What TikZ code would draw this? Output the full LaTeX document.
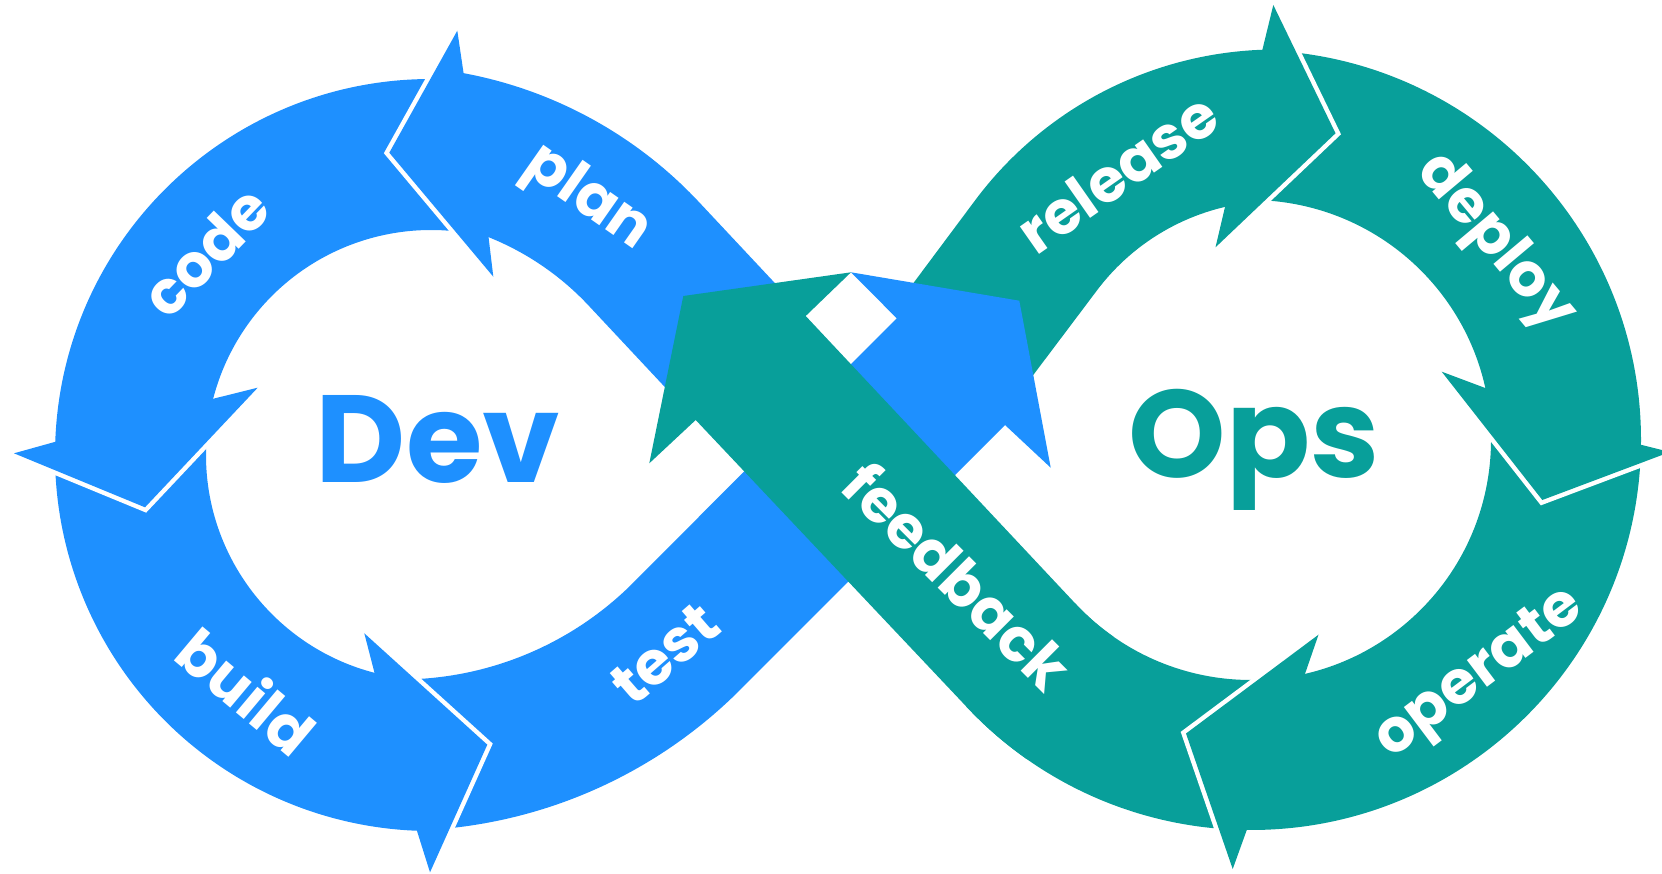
\documentclass[tikz,border=0pt]{standalone}
\usepackage{fontspec}
\setmainfont{Poppins}
\usetikzlibrary{calc}
\definecolor{devblue}{RGB}{30,144,255}
\definecolor{opsteal}{RGB}{8,159,154}
\tikzset{
  gapline/.style={draw=white, line width=9pt, line join=miter},
  lbl/.style={text=white, inner sep=0pt, font=\bfseries\fontsize{60}{72}\selectfont},
  bigword/.style={inner sep=0pt, font=\bfseries\fontsize{124}{140}\selectfont}
}
\begin{document}
\begin{tikzpicture}[x=1pt,y=-1pt]
\useasboundingbox (0,0) rectangle (1662,874);
% centres of the arcs
\coordinate (C1) at (431,455);   % code / build
\coordinate (Cp) at (385,496);   % plan
\coordinate (Ct) at (400,350);   % test
\coordinate (C2) at (1251,440);  % deploy / operate / feedback
\coordinate (C3) at (1276,425);  % release

% ---------- Ops loop (teal), first layer ----------
\fill[opsteal]
  (904.3,295.3) -- ($(C3)+(-143:375.5)$)
  arc[start angle=-143, end angle=-92, radius=375.5]
  -- ($(C2)+(-88.25:390)$)
  arc[start angle=-88.25, end angle=137, radius=390]
  -- ($(C2)+(137:240)$)
  arc[start angle=137, end angle=-88.25, radius=240]
  -- ($(C3)+(-94.5:224)$)
  arc[start angle=-94.5, end angle=-143, radius=224]
  -- (1025.5,385.3) -- cycle;

% ---------- Dev loop (blue) ----------
\fill[devblue]
  (785,293.9) -- ($(Cp)+(-43.05:430.1)$)
  arc[start angle=-43.05, end angle=-81.3, radius=430.1]
  -- ($(C1)+(-87.4:376)$)
  arc[start angle=-87.4, end angle=-270, radius=376]
  -- ($(Ct)+(86.3:480.8)$)
  arc[start angle=86.3, end angle=45, radius=480.8]
  -- (1005,425) -- (1050.7,467.7) -- (1019.3,300.7) -- (851,272.3) -- (896.7,318.3)
  -- ($(Ct)+(45:329.5)$)
  arc[start angle=45, end angle=89.1, radius=329.5]
  -- ($(C1)+(96.6:225)$)
  arc[start angle=96.6, end angle=280, radius=225]
  -- ($(Cp)+(-72.25:278.8)$)
  arc[start angle=-72.25, end angle=-43.05, radius=278.8]
  -- (672,394.7) -- cycle;

% ---------- feedback band over the crossing ----------
\fill[opsteal]
  ($(C2)+(125:390)$) arc[start angle=125, end angle=137, radius=390]
  -- (695.7,420) -- (649.3,463.3) -- (683.3,296) -- (851,272.3) -- (805.7,316)
  -- ($(C2)+(137:240)$) arc[start angle=137, end angle=125, radius=240] -- cycle;

% ---------- arrowheads with white gaps ----------
% plan -> code
\draw[gapline] (457.3,30.7) -- (389.3,152.7) -- (493.3,276.7);
\fill[devblue] (457.3,30.7) -- (389.3,152.7) -- (493.3,276.7) -- (488.3,235) -- (464,76) -- cycle;
% code -> build
\draw[gapline] (14,453.3) -- (145,507.3) -- (257.7,387.7);
\fill[devblue] (14,453.3) -- (145,507.3) -- (257.7,387.7) -- (215,398.3) -- (60,440.5) -- cycle;
% build -> test
\draw[gapline] (364.3,633.3) -- (487.3,744.7) -- (430,872.3);
\fill[devblue] (364.3,633.3) -- (487.3,744.7) -- (430,872.3) -- (416.7,830) -- (375,674.7) -- cycle;
% release -> deploy
\draw[gapline] (1273.3,5) -- (1335.5,133.3) -- (1215.5,247.3);
\fill[opsteal] (1273.3,5) -- (1335.5,133.3) -- (1215.5,247.3) -- (1225.3,205.7) -- (1262.5,49.3) -- cycle;
% deploy -> operate
\draw[gapline] (1441.7,371.7) -- (1542.3,500) -- (1670,452);
\fill[opsteal] (1441.7,371.7) -- (1542.3,500) -- (1670,452) -- (1635,443.3) -- (1483.3,387.3) -- cycle;
% operate -> feedback
\draw[gapline] (1318.5,634.7) -- (1186,733.5) -- (1232.7,869);
\fill[opsteal] (1318.5,634.7) -- (1186,733.5) -- (1232.7,869) -- (1248.2,826) -- (1304.7,674.7) -- cycle;

% ---------- texts ----------
\node[bigword, text=devblue, anchor=base] (dev) at (438,482) {Dev};
\node[bigword, text=opsteal, anchor=base] (ops) at (1254,477) {Ops};

\node[lbl, rotate=46]  (code)     at (205.8,251.7) {code};
\node[lbl, rotate=-35] (plan)     at (586.7,199.2) {plan};
\node[lbl, rotate=-40] (build)    at (246.7,690.7) {build};
\node[lbl, rotate=41]  (test)     at (665,654)     {test};
\node[lbl, rotate=35]  (release)  at (1117.5,172.5) {release};
\node[lbl, rotate=-50] (deploy)   at (1494.5,243.3) {deploy};
\node[lbl, rotate=37]  (operate)  at (1481,675.7)  {operate};
\node[lbl, rotate=-45] (feedback) at (958.3,575.7) {feedback};
\end{tikzpicture}
\end{document}
